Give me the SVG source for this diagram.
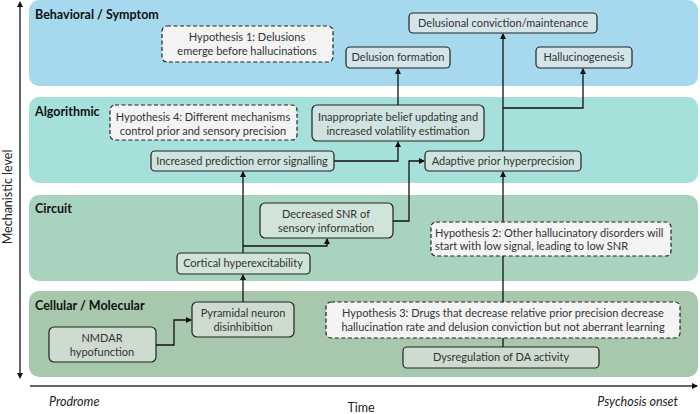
<svg xmlns="http://www.w3.org/2000/svg" width="700" height="414" viewBox="0 0 700 414">
<defs>
<marker id="ah" markerWidth="6" markerHeight="6" refX="5" refY="3" orient="auto" markerUnits="userSpaceOnUse">
<path d="M0,0 L6,3 L0,6 z" fill="#111"/>
</marker>
<marker id="ahs" markerWidth="6" markerHeight="6" refX="3" refY="3" orient="auto-start-reverse" markerUnits="userSpaceOnUse">
<path d="M0,0 L6,3 L0,6 z" fill="#111"/>
</marker>
<style>
.band{stroke:none}
.title{font-family:Lato,"Liberation Sans",sans-serif;font-weight:bold;font-size:12.5px;fill:#111}
.node rect{stroke:#222;stroke-width:1.2}
.hyp rect{fill:#f4f4f4;stroke:#222;stroke-width:1.2;stroke-dasharray:4 2.5}
.t{font-family:Lato,"Liberation Sans",sans-serif;font-size:11px;fill:#333;text-anchor:middle}
.tl{font-family:Lato,"Liberation Sans",sans-serif;font-size:11px;fill:#333}
.ax{font-family:Lato,"Liberation Sans",sans-serif;font-size:12.5px;fill:#222}
.it{font-style:italic}
.c{fill:none;stroke:#111;stroke-width:1.3}
.b1{fill:#d4e5ea}.b2{fill:#cfe4e1}.b3{fill:#d1e4d9}.b4{fill:#cedcd0}
</style>
</defs>

<g id="bands">
<rect class="band" x="29" y="0" width="669" height="86" rx="10" fill="#a6d9ee"/>
<rect class="band" x="29" y="97" width="669" height="86" rx="10" fill="#a6e0da"/>
<rect class="band" x="29" y="195" width="669" height="86" rx="10" fill="#a8d4bf"/>
<rect class="band" x="29" y="291" width="669" height="86" rx="10" fill="#a7c8ad"/>
<text class="title" x="35" y="19">Behavioral / Symptom</text>
<text class="title" x="35" y="116">Algorithmic</text>
<text class="title" x="35" y="213">Circuit</text>
<text class="title" x="35" y="310">Cellular / Molecular</text>
</g>

<g id="axes">
<line x1="20" y1="4" x2="20" y2="376" stroke="#111" stroke-width="1.3" marker-start="url(#ahs)" marker-end="url(#ahs)"/>
<text class="ax" transform="translate(12,197) rotate(-90)" text-anchor="middle">Mechanistic level</text>
<line x1="30" y1="386" x2="697" y2="386" stroke="#333" stroke-width="1.3" marker-end="url(#ah)"/>
<text class="ax it" x="49" y="406">Prodrome</text>
<text class="ax it" x="678" y="406" text-anchor="end">Psychosis onset</text>
<text class="ax" x="361" y="412" text-anchor="middle">Time</text>
</g>

<g id="connectors">
<path class="c" d="M156,345 H174 V320 H191" marker-end="url(#ah)"/>
<path class="c" d="M243,302 V275" marker-end="url(#ah)"/>
<path class="c" d="M243,253 V172" marker-end="url(#ah)"/>
<path class="c" d="M243,246 H327 V239" marker-end="url(#ah)"/>
<path class="c" d="M393,221 H409 V161 H424" marker-end="url(#ah)"/>
<path class="c" d="M334,161 H398 V142" marker-end="url(#ah)"/>
<path class="c" d="M398,105 V69" marker-end="url(#ah)"/>
<path class="c" d="M503,151 V34" marker-end="url(#ah)"/>
<path class="c" d="M503,108 H583 V69" marker-end="url(#ah)"/>
<path class="c" d="M503,222 V172" marker-end="url(#ah)"/>
<path class="c" d="M503,302 V256"/>
<path class="c" d="M503,347 V338"/>
</g>

<g id="n-conviction" class="node"><rect class="b1" x="409" y="13" width="188" height="20" rx="4"/><text class="t" x="503" y="27">Delusional conviction/maintenance</text></g>
<g id="n-formation" class="node"><rect class="b1" x="346" y="47" width="104" height="21" rx="4"/><text class="t" x="398" y="61">Delusion formation</text></g>
<g id="n-halluc" class="node"><rect class="b1" x="536" y="47" width="96" height="21" rx="4"/><text class="t" x="584" y="61">Hallucinogenesis</text></g>
<g id="h1" class="hyp"><rect x="162" y="26" width="171" height="36" rx="5"/><text class="t" x="247" y="41">Hypothesis 1: Delusions</text><text class="t" x="247" y="55">emerge before hallucinations</text></g>

<g id="h4" class="hyp"><rect x="110" y="105" width="187" height="35" rx="5"/><text class="t" x="203" y="121">Hypothesis 4: Different mechanisms</text><text class="t" x="203" y="135">control prior and sensory precision</text></g>
<g id="n-belief" class="node"><rect class="b2" x="312" y="105" width="172" height="36" rx="5"/><text class="t" x="398" y="121">Inappropriate belief updating and</text><text class="t" x="398" y="135">increased volatility estimation</text></g>
<g id="n-pe" class="node"><rect class="b2" x="151" y="151" width="183" height="20" rx="4"/><text class="t" x="242" y="165">Increased prediction error signalling</text></g>
<g id="n-adaptive" class="node"><rect class="b2" x="425" y="151" width="156" height="20" rx="4"/><text class="t" x="503" y="165">Adaptive prior hyperprecision</text></g>

<g id="n-snr" class="node"><rect class="b3" x="260" y="203" width="133" height="35" rx="5"/><text class="t" x="326" y="218">Decreased SNR of</text><text class="t" x="326" y="232">sensory information</text></g>
<g id="n-cortical" class="node"><rect class="b3" x="177" y="253" width="133" height="21" rx="4"/><text class="t" x="243" y="267">Cortical hyperexcitability</text></g>
<g id="h2" class="hyp"><rect x="431" y="222" width="240" height="34" rx="5"/><text class="tl" x="435" y="237">Hypothesis 2: Other hallucinatory disorders will</text><text class="tl" x="435" y="250">start with low signal, leading to low SNR</text></g>

<g id="n-pyramidal" class="node"><rect class="b4" x="192" y="302" width="102" height="35" rx="5"/><text class="t" x="243" y="317">Pyramidal neuron</text><text class="t" x="243" y="331">disinhibition</text></g>
<g id="n-nmdar" class="node"><rect class="b4" x="49" y="327" width="107" height="35" rx="5"/><text class="t" x="102" y="342">NMDAR</text><text class="t" x="102" y="356">hypofunction</text></g>
<g id="h3" class="hyp"><rect x="326" y="302" width="354" height="36" rx="5"/><text class="t" x="503" y="317">Hypothesis 3: Drugs that decrease relative prior precision decrease</text><text class="t" x="503" y="331">hallucination rate and delusion conviction but not aberrant learning</text></g>
<g id="n-da" class="node"><rect class="b4" x="403" y="347" width="196" height="21" rx="4"/><text class="t" x="501" y="361">Dysregulation of DA activity</text></g>
</svg>
